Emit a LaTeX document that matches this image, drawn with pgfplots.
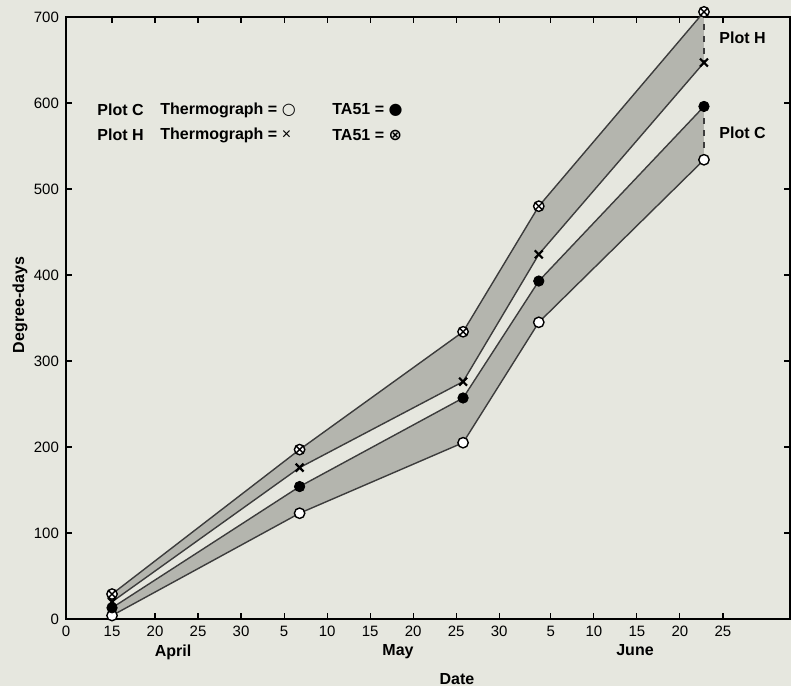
\documentclass[border=0pt]{standalone}
\usepackage{fontspec}
\setmainfont{Liberation Sans}
\newfontfamily\dejavu{DejaVu Sans}
\usepackage{pgfplots}
\pgfplotsset{compat=1.18}
\definecolor{bgcol}{HTML}{E6E7DF}
\definecolor{bandcol}{HTML}{B4B5AE}
\definecolor{edgecol}{HTML}{3C3C3C}
\pagecolor{bgcol}
\begin{document}
\begin{tikzpicture}
\begin{axis}[at={(0,0)}, anchor=south west, scale only axis,
  width=362pt, height=301pt,
  xmin=9.65, xmax=93.8, ymin=0, ymax=700,
  xtick={9.65,15,20,25,30,35,40,45,50,55,60,66,71,76,81,86},
  xticklabels={0,15,20,25,30,5,10,15,20,25,30,5,10,15,20,25},
  ytick={0,100,...,700},
  tick align=inside, major tick length=3pt,
  tick style={black, line width=0.6pt},
  axis line style={line width=1pt},
  ticklabel style={font=\fontsize{7.5}{9}\selectfont},
  /pgf/number format/assume math mode=true,
  clip=false]
% Plot H band
\addplot[draw=none, fill=bandcol] coordinates {(15,29)(36.8,197)(55.8,334)(64.6,480)(83.8,706)(83.8,647)(64.6,424)(55.8,276)(36.8,176)(15,20)} -- cycle;
% Plot C band
\addplot[draw=none, fill=bandcol] coordinates {(15,13)(36.8,154)(55.8,257)(64.6,393)(83.8,596)(83.8,534)(64.6,345)(55.8,205)(36.8,123)(15,4)} -- cycle;
% edges
\addplot[edgecol, line width=0.7pt] coordinates {(15,29)(36.8,197)(55.8,334)(64.6,480)(83.8,706)};
\addplot[edgecol, line width=0.7pt] coordinates {(15,20)(36.8,176)(55.8,276)(64.6,424)(83.8,647)};
\addplot[edgecol, line width=0.7pt] coordinates {(15,13)(36.8,154)(55.8,257)(64.6,393)(83.8,596)};
\addplot[edgecol, line width=0.7pt] coordinates {(15,4)(36.8,123)(55.8,205)(64.6,345)(83.8,534)};
\addplot[edgecol, dashed, line width=0.6pt] coordinates {(83.8,706)(83.8,647)};
\addplot[edgecol, dashed, line width=0.6pt] coordinates {(83.8,596)(83.8,534)};
% marks
\addplot[only marks, mark=x, mark size=2.8pt, black, mark options={line width=1.1pt}] coordinates {(15,20)(36.8,176)(55.8,276)(64.6,424)(83.8,647)};
\addplot[only marks, mark=*, mark size=2.6pt, mark options={fill=white, draw=black, line width=0.7pt}] coordinates {(15,4)(36.8,123)(55.8,205)(64.6,345)(83.8,534)};
\addplot[only marks, mark=*, mark size=2.6pt, black] coordinates {(15,13)(36.8,154)(55.8,257)(64.6,393)(83.8,596)};
\addplot[only marks, mark=otimes*, mark size=2.6pt, mark options={fill=white, draw=black, line width=0.7pt}] coordinates {(15,29)(36.8,197)(55.8,334)(64.6,480)(83.8,706)};
\end{axis}
\begin{scope}[every node/.style={inner sep=0pt, font=\bfseries\fontsize{8}{9.6}\selectfont}]
\node[anchor=west] at (15.5pt,254.5pt) {Plot C};
\node[anchor=west] at (47pt,254.5pt) {Thermograph = {\dejavu\mdseries ○}};
\node[anchor=west] at (133pt,254.5pt) {TA51 = {\dejavu ●}};
\node[anchor=west] at (15.5pt,242pt) {Plot H};
\node[anchor=west] at (47pt,242pt) {Thermograph = {\mdseries ×}};
\node[anchor=west] at (133pt,242pt) {TA51 = {\dejavu ⊗}};
\node[anchor=west] at (326.5pt,290.5pt) {Plot H};
\node[anchor=west] at (326.5pt,243pt) {Plot C};
\node at (53.5pt,-16.5pt) {April};
\node at (166pt,-16.5pt) {May};
\node at (284.5pt,-15.5pt) {June};
\node at (195.5pt,-30pt) {Date};
\node[rotate=90] at (-23pt,157pt) {Degree-days};
\end{scope}
\pgfresetboundingbox
\path (-33pt,-33.5pt) rectangle (362.5pt,309.5pt);
\end{tikzpicture}
\end{document}
